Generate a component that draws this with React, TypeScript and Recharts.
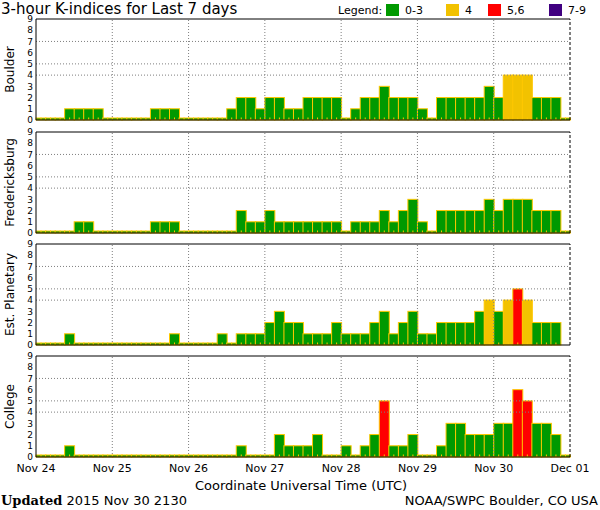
import React from "react";
import { BarChart, Bar, XAxis, YAxis, ReferenceLine } from "recharts";

// 3-hour slots, 8 per day, Nov 24 00 UT .. Nov 30 21 UT
const days = ["Nov 24", "Nov 25", "Nov 26", "Nov 27", "Nov 28", "Nov 29", "Nov 30", "Dec 01"];
const hours = ["00", "03", "06", "09", "12", "15", "18", "21"];

const boulder = [
  0, 0, 0, 1, 1, 1, 1, 0,
  0, 0, 0, 0, 1, 1, 1, 0,
  0, 0, 0, 0, 1, 2, 2, 1,
  2, 2, 1, 1, 2, 2, 2, 2,
  0, 1, 2, 2, 3, 2, 2, 2,
  1, 0, 2, 2, 2, 2, 2, 3,
  2, 4, 4, 4, 2, 2, 2, 0,
];
const fredericksburg = [
  0, 0, 0, 0, 1, 1, 0, 0,
  0, 0, 0, 0, 1, 1, 1, 0,
  0, 0, 0, 0, 0, 2, 1, 1,
  2, 1, 1, 1, 1, 1, 1, 1,
  0, 1, 1, 1, 2, 1, 2, 3,
  1, 0, 2, 2, 2, 2, 2, 3,
  2, 3, 3, 3, 2, 2, 2, 0,
];
const planetary = [
  0, 0, 0, 1, 0, 0, 0, 0,
  0, 0, 0, 0, 0, 0, 1, 0,
  0, 0, 0, 1, 0, 1, 1, 1,
  2, 3, 2, 2, 1, 1, 1, 2,
  1, 1, 1, 2, 3, 1, 2, 3,
  1, 1, 2, 2, 2, 2, 3, 4,
  3, 4, 5, 4, 2, 2, 2, null,
];
const college = [
  0, 0, 0, 1, 0, 0, 0, 0,
  0, 0, 0, 0, 0, 0, 0, 0,
  0, 0, 0, 0, 0, 1, 0, 0,
  0, 2, 1, 1, 1, 2, 0, 0,
  1, 0, 1, 2, 5, 1, 1, 2,
  0, 0, 1, 3, 3, 2, 2, 2,
  3, 3, 6, 5, 3, 3, 2, 0,
];

const kTicks = [0, 1, 2, 3, 4, 5, 6, 7, 8, 9];
const gridK = [4, 5, 7];
const dayTicks = [0, 1, 2, 3, 4, 5, 6, 7];

const rows = boulder.map((_, i) => ({
  slot: `${days[Math.floor(i / 8)]} ${hours[i % 8]}`,
  day: i / 8, // slot start, in days since Nov 24 00 UT
  boulder: boulder[i],
  fredericksburg: fredericksburg[i],
  planetary: planetary[i],
  college: college[i],
}));

const GREEN = "#009900";
const YELLOW = "#f2c200";
const RED = "#ff0000";
const PURPLE = "#400080";
const EDGE = "#ffc800";
const GRID = "#7f7f7f";
const FONT = "'DejaVu Sans', sans-serif";

const kColor = (k: number) => {
  if (k >= 7) return PURPLE;
  if (k >= 5) return RED;
  if (k >= 4) return YELLOW;
  return GREEN;
};

const KBar = (props: any) => {
  const { x, y, width, height, k } = props;
  const base = y + height;
  if (!isFinite(base) || !isFinite(x)) return <g />;
  const cx = x + width / 2;
  const tick = <line x1={cx} x2={cx} y1={base - 2.5} y2={base} stroke={EDGE} />;
  if (k == null) return <g>{tick}</g>;
  const h = Math.max(height, 2);
  return (
    <g>
      <rect x={x} y={base - h} width={width} height={h} fill={kColor(k)} stroke={EDGE} strokeWidth={1} />
      {tick}
    </g>
  );
};

const PLOT_H = 101;
const TOP_PAD = 6;

type PanelProps = { name: string; dataKey: string; top: number; showDates?: boolean };

const Panel = ({ dataKey, top, showDates }: PanelProps) => {
  const axisH = showDates ? 20 : 6;
  return (
    <div style={{ position: "absolute", left: 0, top: top - TOP_PAD }}>
      <BarChart
        width={600}
        height={TOP_PAD + PLOT_H + axisH}
        data={rows}
        margin={{ top: TOP_PAD, right: 30, bottom: 0, left: 6 }}
        barCategoryGap={0}
        barGap={0}
      >
        <XAxis xAxisId="slot" dataKey="slot" hide />
        <XAxis
          xAxisId="day"
          dataKey="day"
          type="number"
          domain={[0, 7]}
          allowDataOverflow
          ticks={dayTicks}
          tickFormatter={(d: number) => days[d]}
          tick={showDates ? { fontSize: 11, fill: "#000", fontFamily: FONT } : false}
          tickLine={false}
          tickSize={0}
          tickMargin={7}
          height={axisH}
          axisLine={{ stroke: "#000" }}
          interval={0}
        />
        <YAxis
          domain={[0, 9]}
          ticks={kTicks}
          interval={0}
          width={30}
          tickLine={false}
          tickSize={0}
          tickMargin={3}
          tick={{ fontSize: 9, fill: "#000", fontFamily: FONT }}
          axisLine={{ stroke: "#000" }}
        />
        {gridK.map((k) => (
          <ReferenceLine key={`h${k}`} xAxisId="day" y={k} stroke={GRID} strokeDasharray="1 2" />
        ))}
        {dayTicks.slice(1, 7).map((d) => (
          <ReferenceLine key={`v${d}`} xAxisId="day" x={d} stroke={GRID} strokeDasharray="1 2" />
        ))}
        <Bar
          xAxisId="slot"
          dataKey={dataKey}
          isAnimationActive={false}
          shape={(p: any) => <KBar {...p} k={p.payload[dataKey]} />}
        />
        <ReferenceLine xAxisId="day" y={9} stroke="#000" />
        <ReferenceLine xAxisId="day" x={7} stroke="#000" strokeDasharray="3 2" />
      </BarChart>
    </div>
  );
};

const panels = [
  { name: "Boulder", dataKey: "boulder", top: 19 },
  { name: "Fredericksburg", dataKey: "fredericksburg", top: 132 },
  { name: "Est. Planetary", dataKey: "planetary", top: 244 },
  { name: "College", dataKey: "college", top: 356 },
];

const legend = [
  { label: "0-3", color: GREEN, x: 386 },
  { label: "4", color: YELLOW, x: 446 },
  { label: "5,6", color: RED, x: 488 },
  { label: "7-9", color: PURPLE, x: 549 },
];

export default function App() {
  return (
    <div style={{ position: "absolute", left: 0, top: 0, width: 600, height: 510, background: "#fff" }}>
      {panels.map((p, i) => (
        <Panel key={p.dataKey} {...p} showDates={i === panels.length - 1} />
      ))}
      <svg
        width={600}
        height={510}
        style={{ position: "absolute", left: 0, top: 0, pointerEvents: "none" }}
        fontFamily={FONT}
      >
        <text x={1} y={14} fontSize={15}>3-hour K-indices for Last 7 days</text>
        <text x={338} y={14} fontSize={11}>Legend:</text>
        {legend.map((l) => (
          <g key={l.label}>
            <rect x={l.x} y={4} width={13} height={12} fill={l.color} />
            <text x={l.x + 19} y={14} fontSize={11}>{l.label}</text>
          </g>
        ))}
        {panels.map((p) => (
          <text
            key={p.name}
            transform={`translate(14, ${p.top + PLOT_H / 2}) rotate(-90)`}
            textAnchor="middle"
            fontSize={12}
          >
            {p.name}
          </text>
        ))}
        <text x={301} y={490} textAnchor="middle" fontSize={13}>Coordinate Universal Time (UTC)</text>
        <text x={1} y={505} fontSize={13}>
          <tspan fontFamily="'DejaVu Serif', serif" fontWeight="bold">Updated</tspan>
          <tspan> 2015 Nov 30 2130</tspan>
        </text>
        <text x={598} y={505} textAnchor="end" fontSize={13}>NOAA/SWPC Boulder, CO USA</text>
      </svg>
    </div>
  );
}
